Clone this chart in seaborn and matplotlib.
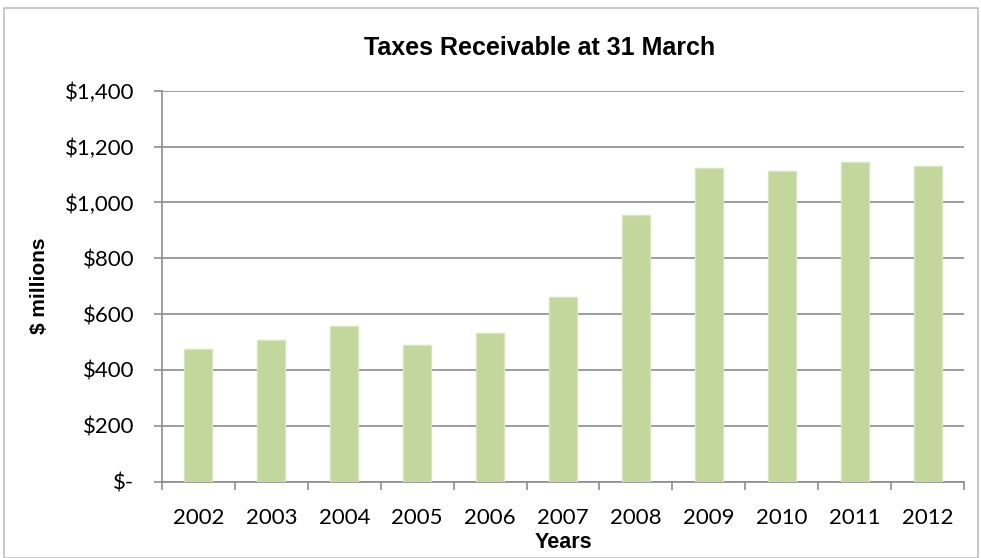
import matplotlib
matplotlib.use("Agg")
import matplotlib.pyplot as plt
import matplotlib.ticker as mticker
from matplotlib.patches import Rectangle
import seaborn as sns
import pandas as pd
import numpy as np

years = ["2002", "2003", "2004", "2005", "2006", "2007", "2008", "2009", "2010", "2011", "2012"]
values = [474, 507, 557, 489, 532, 661, 954, 1124, 1113, 1146, 1130]
y_ticks = [0, 200, 400, 600, 800, 1000, 1200, 1400]

sns.set_theme(style="white")
plt.rcParams['font.family'] = ['Lato', 'DejaVu Sans']
plt.rcParams['text.color'] = 'black'
plt.rcParams['axes.labelcolor'] = 'black'
bold_family = ['Liberation Sans', 'DejaVu Sans']

df = pd.DataFrame({"Year": years, "Value": values})

fig = plt.figure(figsize=(9.81, 5.58), dpi=100)
ax = fig.add_axes([162/981, 1-481.6/558, (964-162)/981, (481.6-90.8)/558])

sns.barplot(data=df, x="Year", y="Value", ax=ax, color="#C3D69B", width=0.385,
            edgecolor="#D7E4BD", linewidth=1, saturation=1, zorder=3)

ax.set_ylim(0, 1400)
ax.set_xlim(-0.5, len(years) - 0.5)
ax.set_yticks(y_ticks)

def fmt(v, pos):
    if v == 0:
        return "$-"
    return "${:,.0f}".format(v)
ax.yaxis.set_major_formatter(mticker.FuncFormatter(fmt))

ax.grid(axis="y", color="#8C8C8C", linewidth=1.2, zorder=0)
ax.set_axisbelow(True)
for s in ["top", "right"]:
    ax.spines[s].set_visible(False)
ax.spines["left"].set_color("#8C8C8C")
ax.spines["bottom"].set_color("#8C8C8C")
ax.spines["left"].set_linewidth(1.2)
ax.spines["bottom"].set_linewidth(1.2)

ax.tick_params(axis="y", which="major", left=True, length=6, width=1.2, color="#8C8C8C",
               labelsize=16, pad=14, labelcolor="black")
ax.tick_params(axis="x", which="major", bottom=False, labelsize=16, pad=13, labelcolor="black")
ax.set_xticks(np.arange(-0.5, len(years), 1.0), minor=True)
ax.tick_params(axis="x", which="minor", bottom=True, length=6, width=1.2, color="#8C8C8C")

ax.set_xlabel("Years", fontsize=15.5, fontweight="bold", family=bold_family, labelpad=3)
ax.set_ylabel("$ millions", fontsize=15, fontweight="bold", family=bold_family, labelpad=11)

fig.text(540/981, 1-48/558, "Taxes Receivable at 31 March", ha="center", va="center",
         fontsize=18, fontweight="bold", family=bold_family, color="black")

fig.patches.append(Rectangle((4/981, 0), 974/981, 1-8/558, transform=fig.transFigure,
                             fill=False, edgecolor="#BFBFBF", linewidth=1.2))

fig.savefig("out.png", dpi=100)
